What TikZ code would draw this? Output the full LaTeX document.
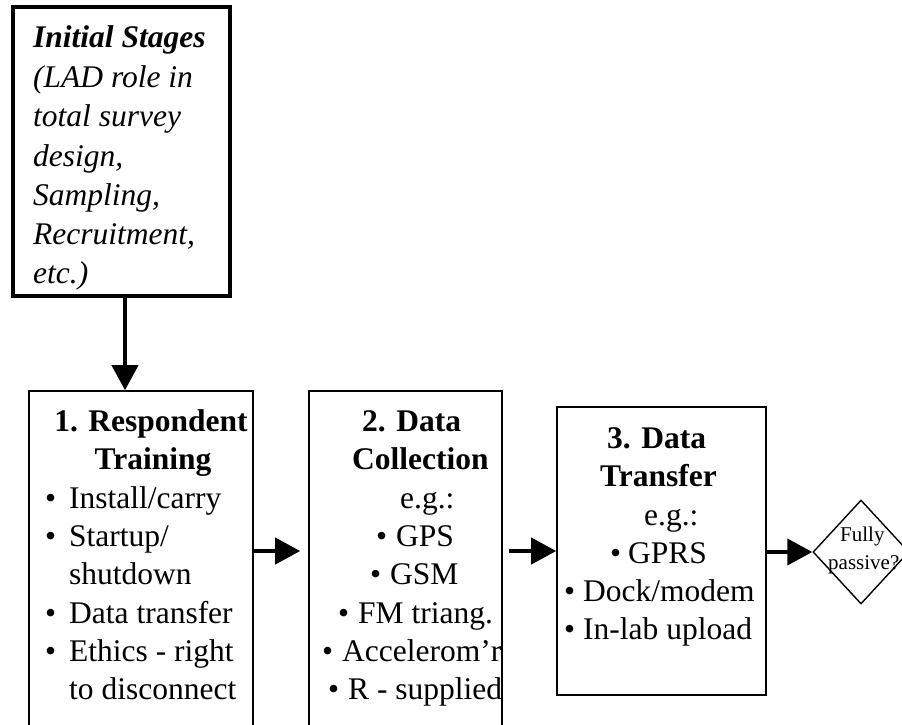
\documentclass[tikz,border=0pt]{standalone}
\usepackage{fontspec}
\setmainfont{Liberation Serif}
\usetikzlibrary{arrows.meta,shapes.geometric}
\newcommand{\bul}[1]{\makebox[#1][l]{•}}
\begin{document}
\begin{tikzpicture}[x=1pt,y=-1pt,
  box/.style={draw,rectangle,line width=1.6pt,inner sep=0pt},
  arr/.style={line width=4pt,-{Triangle[length=25pt,width=26pt]}},
  txt/.style={anchor=base west,inner sep=0pt,font=\fontsize{31.5}{38}\selectfont},
  hdw/.style={anchor=base west,inner sep=0pt,font=\fontsize{31.5}{38}\selectfont\bfseries},
  hdc/.style={anchor=base,inner sep=0pt,font=\fontsize{31.5}{38}\selectfont\bfseries},
  itl/.style={anchor=base west,inner sep=0pt,font=\fontsize{31.5}{38}\selectfont\itshape},
  small/.style={anchor=base west,inner sep=0pt,font=\fontsize{21}{25}\selectfont}
]
\useasboundingbox (0,0) rectangle (902,724);
\clip (0,0) rectangle (902,724);

% boxes
\node[box,line width=4pt,minimum width=217pt,minimum height=289pt] (init) at (121.5,151.5) {};
\node[box,minimum width=224pt,minimum height=354pt] (b1) at (141,568) {};
\node[box,minimum width=193pt,minimum height=354pt] (b2) at (405.5,568) {};
\node[box,minimum width=209pt,minimum height=288pt] (b3) at (661.5,551) {};
\node[draw,diamond,line width=1.4pt,inner sep=0pt,minimum width=96pt,minimum height=104pt] (dia) at (861,552) {};

% initial stages text
\node[itl,font=\fontsize{31.5}{38}\selectfont\bfseries\itshape] (i1) at (33,47) {Initial Stages};
\node[itl] (i2) at (33,87) {(LAD role in};
\node[itl] (i3) at (33,126) {total survey};
\node[itl] (i4) at (33,166) {design,};
\node[itl] (i5) at (33,205) {Sampling,};
\node[itl] (i6) at (33,244) {Recruitment,};
\node[itl] (i7) at (33,283) {etc.)};

% stage 1
\node[hdc] (r1) at (151,431) {1. Respondent};
\node[hdc] (r2) at (153,469) {Training};
\node[txt] (r3) at (45,508) {\bul{24pt}Install/carry};
\node[txt] (r4) at (45,546) {\bul{24pt}Startup/};
\node[txt] (r5) at (69,584) {shutdown};
\node[txt] (r6) at (45,623) {\bul{24pt}Data transfer};
\node[txt] (r7) at (45,661) {\bul{24pt}Ethics - right};
\node[txt] (r8) at (69,699) {to disconnect};

% stage 2 (text cut at the box edge)
\begin{scope}
\clip (b2.north west) rectangle (b2.south east);
\node[hdw] (c1) at (362,431) {2. Data};
\node[hdw] (c2) at (352,469) {Collection};
\node[txt] (c3) at (400,508) {e.g.:};
\node[txt] (c4) at (376,546) {\bul{20pt}GPS};
\node[txt] (c5) at (370,584) {\bul{20pt}GSM};
\node[txt] (c6) at (338,623) {\bul{20pt}FM triang.};
\node[txt] (c7) at (322,661) {\bul{20pt}Accelerom’r};
\node[txt] (c8) at (328,699) {\bul{20pt}R - supplied};
\end{scope}

% stage 3
\node[hdw] (d1) at (607,448) {3. Data};
\node[hdw] (d2) at (600,486) {Transfer};
\node[txt] (d3) at (644,525) {e.g.:};
\node[txt] (d4) at (610,563) {\bul{18pt}GPRS};
\node[txt] (d5) at (564,601) {\bul{19pt}Dock/modem};
\node[txt] (d6) at (564,639) {\bul{19pt}In-lab upload};

% decision
\node[small] (f1) at (840,541) {Fully};
\node[small] (f2) at (828,569) {passive?};

% connectors
\coordinate (dtop) at (125,296);
\draw[arr] (dtop) -- (dtop |- b1.north);
\draw[arr,shorten >=8pt] (b1.east |- b3.west) -- (b2.west |- b3.west);
\draw[arr,shorten <=6pt] (b2.east |- b3.west) -- (b3.west);
\draw[arr] (b3.east |- dia.west) -- (dia.west);
\end{tikzpicture}
\end{document}
